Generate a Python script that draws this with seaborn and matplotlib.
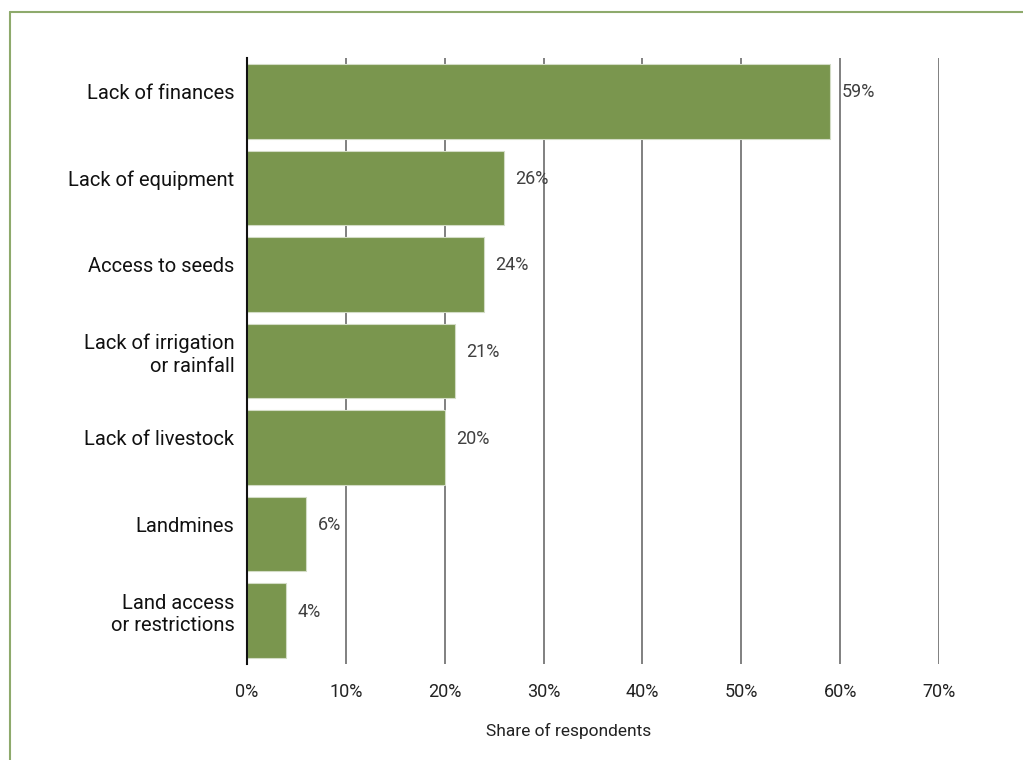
import matplotlib
matplotlib.use("Agg")
import matplotlib.pyplot as plt
from matplotlib.lines import Line2D
from matplotlib.ticker import FuncFormatter, MultipleLocator
from matplotlib.transforms import ScaledTranslation
import seaborn as sns
import pandas as pd

# Main obstacles reported by respondents
categories = [
    "Lack of finances",
    "Lack of equipment",
    "Access to seeds",
    "Lack of irrigation\nor rainfall",
    "Lack of livestock",
    "Landmines",
    "Land access\nor restrictions",
]
shares = [59, 26, 24, 21, 20, 6, 4]

df = pd.DataFrame({"category": categories, "share": shares})

sns.set_theme(style="white")
plt.rcParams["font.family"] = ["Roboto", "DejaVu Sans"]

BAR_GREEN = "#7a964e"
FRAME_GREEN = "#8eaa6c"

fig = plt.figure(figsize=(10.23, 7.6), dpi=100)
ax = fig.add_axes([0.2414, 0.1263, 0.6765, 0.7974])

sns.barplot(data=df, x="share", y="category", orient="h", color=BAR_GREEN,
            saturation=1, width=0.86, edgecolor="#d3dcc6", linewidth=0.8,
            ax=ax, zorder=3)

ax.set_xlim(0, 70)
ax.set_ylim(len(categories) - 0.5, -0.5)
ax.xaxis.set_major_locator(MultipleLocator(10))
ax.xaxis.set_major_formatter(FuncFormatter(lambda v, _: f"{v:.0f}%"))

ax.grid(axis="x", color="#808080", linewidth=1.4, zorder=0)
ax.grid(axis="y", visible=False)
ax.set_axisbelow(True)

for side in ("top", "right", "bottom"):
    ax.spines[side].set_visible(False)
ax.spines["left"].set_color("#111111")
ax.spines["left"].set_linewidth(1.5)
ax.spines["left"].set_zorder(4)

ax.tick_params(axis="x", length=0, pad=14, labelsize=13, labelcolor="#222222")
ax.tick_params(axis="y", length=0, pad=9, labelsize=14.5, labelcolor="#111111")
lift = ScaledTranslation(0, 10 / 100, fig.dpi_scale_trans)
for lbl in ax.get_yticklabels():
    lbl.set_horizontalalignment("right")
    lbl.set_multialignment("right")
    lbl.set_linespacing(1.25)
    lbl.set_transform(lbl.get_transform() + lift)

ax.set_ylabel("")
ax.set_xlabel("Share of respondents", fontsize=12.5, color="#222222")
ax.xaxis.set_label_coords(0.465, -0.098)

# Value labels next to each bar
for i, v in enumerate(shares):
    ax.annotate(f"{v}%", xy=(v, i), xytext=(8, 6.5), textcoords="offset points",
                ha="left", va="center", fontsize=13, color="#404040", zorder=5)

# Thin green frame along the top and left edges
fig.add_artist(Line2D([10 / 1023, 1.0], [1 - 12 / 760, 1 - 12 / 760],
                      transform=fig.transFigure, color=FRAME_GREEN, linewidth=1.5))
fig.add_artist(Line2D([10 / 1023, 10 / 1023], [0.0, 1 - 12 / 760],
                      transform=fig.transFigure, color=FRAME_GREEN, linewidth=1.5))

fig.savefig("out.png", dpi=100)
